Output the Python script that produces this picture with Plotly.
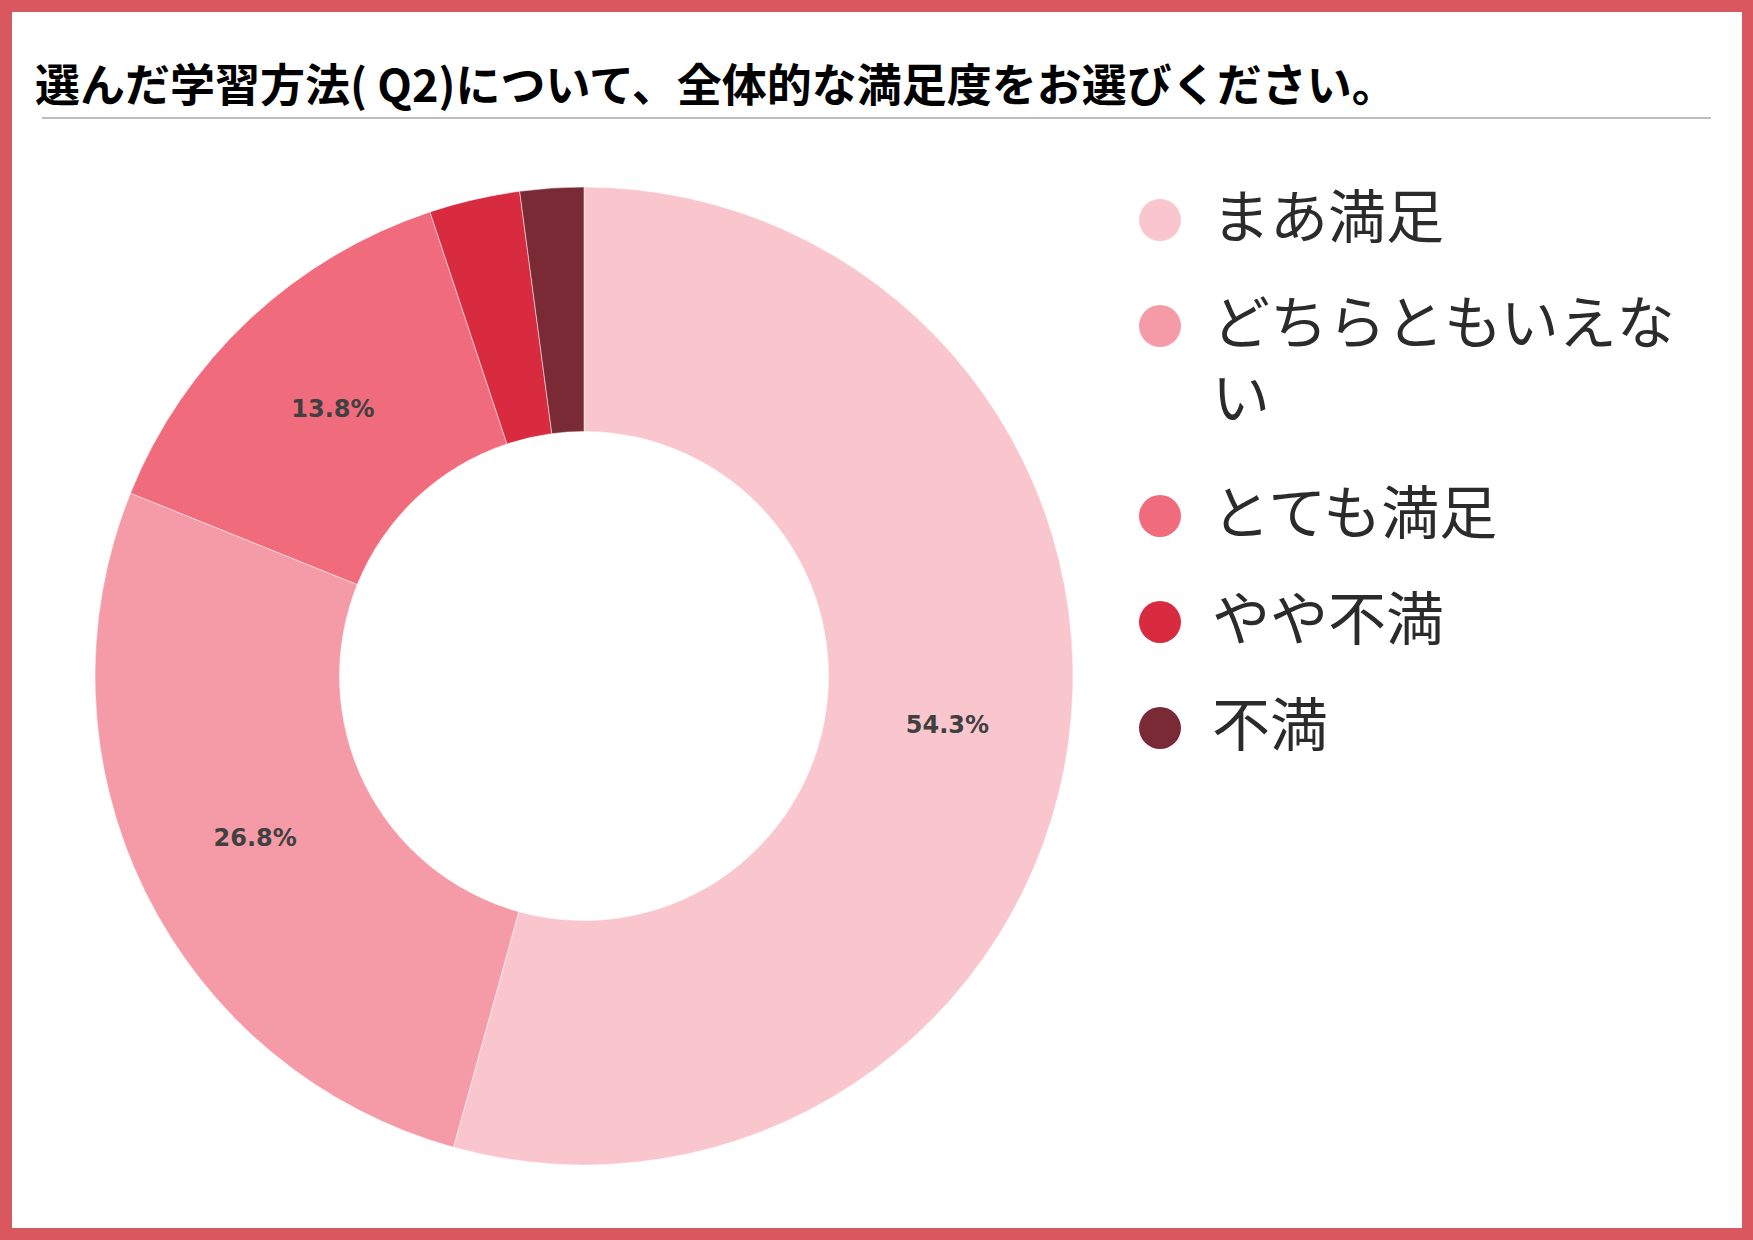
import plotly.graph_objects as go

# data
labels = ["まあ満足", "どちらともいえない", "とても満足", "やや不満", "不満"]
values = [54.3, 26.8, 13.8, 3.0, 2.1]
colors = ["#F9C6CE", "#F59BA8", "#F06C7C", "#D92B40", "#7A2A35"]
# legend labels as they wrap in the original
legend_text = ["まあ満足", "どちらともいえな<br>い", "とても満足", "やや不満", "不満"]
title = "選んだ学習方法( Q2)について、全体的な満足度をお選びください。"

W, H = 1753, 1240


def px(x):
    return x / W


def py(y):
    return 1 - y / H


# only the big slices carry a label
slice_text = [f"{v}%" if v > 10 else "" for v in values]

fig = go.Figure()
fig.add_trace(go.Pie(
    labels=labels, values=values, text=slice_text,
    textinfo="text", textposition="inside",
    insidetextorientation="horizontal",
    textfont=dict(family="DejaVu Sans", size=24, color="#404040",
                  weight="bold"),
    hole=0.5, sort=False, direction="clockwise", rotation=0,
    marker=dict(colors=colors, line=dict(color="white", width=0.5)),
    domain=dict(x=[px(584 - 489), px(584 + 489)],
                y=[py(676 + 489), py(676 - 489)]),
    showlegend=False, hoverinfo="label+percent",
))

shapes = [
    # white card inside the red frame
    dict(type="rect", xref="paper", yref="paper", layer="below",
         x0=px(12), x1=px(1742), y0=py(1228), y1=py(12),
         fillcolor="white", line=dict(width=0)),
    # rule under the title
    dict(type="line", xref="paper", yref="paper",
         x0=px(42), x1=px(1711), y0=py(118), y1=py(118),
         line=dict(color="#AAAAAA", width=1.5)),
]
annotations = [
    dict(text=title, xref="paper", yref="paper", x=px(33), y=py(82),
         xanchor="left", yanchor="middle", showarrow=False,
         font=dict(family="Noto Sans CJK JP", size=45, color="black",
                   weight="bold")),
]

# legend drawn by hand so the swatches can be round
cy = 220
for lab, col in zip(legend_text, colors):
    shapes.append(dict(type="circle", xref="paper", yref="paper",
                       x0=px(1139), x1=px(1181), y0=py(cy + 21), y1=py(cy - 21),
                       fillcolor=col, line=dict(width=0)))
    annotations.append(dict(text=lab, xref="paper", yref="paper",
                            x=px(1210), y=py(cy - 51), xanchor="left",
                            yanchor="top", align="left", showarrow=False,
                            font=dict(family="Noto Sans CJK JP", size=58,
                                      color="#2B2B2B")))
    cy += 106 + 84 * lab.count("<br>")

fig.update_layout(
    width=W, height=H,
    margin=dict(l=0, r=0, t=0, b=0),
    paper_bgcolor="#D9575F",
    plot_bgcolor="white",
    shapes=shapes,
    annotations=annotations,
)

fig.write_html("out.html", config={"displayModeBar": False},
               post_script="document.body.style.margin = '0';")
